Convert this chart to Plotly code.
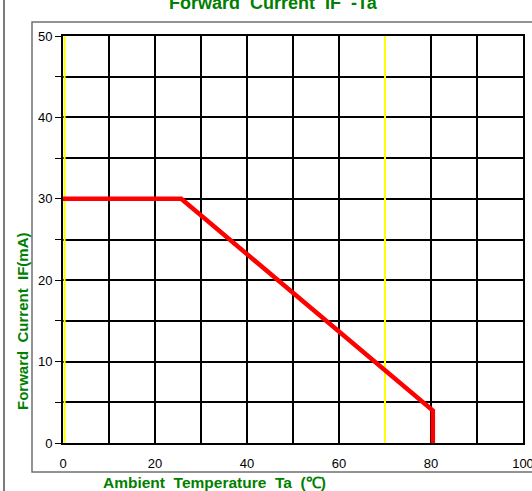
import plotly.graph_objects as go

# Data
temp_ta = [0, 25.7, 80.4, 80.4]
current_if = [30, 30, 4, 0]
yellow_lines_x = [0.35, 70]
x_tick_vals = [0, 20, 40, 60, 80, 100]
x_tick_text = ["0", "20", "40", "60", "80", "100"]
y_tick_vals = [0, 10, 20, 30, 40, 50]
y_tick_text = ["0", "10", "20", "30", "40", "50"]

title_text = "Forward&nbsp; Current&nbsp; IF&nbsp; -Ta"
x_title = "Ambient&nbsp; Temperature&nbsp; Ta&nbsp; (℃)"
y_title = "Forward&nbsp; Current&nbsp; IF(mA)"

GREEN = "#008000"
W, H = 532, 491
L, R, T, B = 63, 9, 36, 48
pw, ph = W - L - R, H - T - B

def px(xp):
    return (xp - L) / pw

def py(yp):
    return (H - B - yp) / ph

fig = go.Figure()

for xv in yellow_lines_x:
    fig.add_trace(go.Scatter(x=[xv, xv], y=[0, 50],
                             mode="lines", line=dict(color="#ffff00", width=2),
                             hoverinfo="skip", showlegend=False))

fig.add_trace(go.Scatter(x=temp_ta, y=current_if, mode="lines",
                         line=dict(color="#ff0000", width=4.5),
                         showlegend=False))

axis_common = dict(showline=True, linecolor="black", linewidth=2, mirror=True,
                   showgrid=True, gridcolor="black", gridwidth=2, zeroline=False,
                   automargin=False, ticklabeloverflow="allow",
                   tickfont=dict(family="Liberation Sans", size=13, color="black"))

fig.update_xaxes(range=[0, 100], tickvals=x_tick_vals, ticktext=x_tick_text,
                 ticks="outside", ticklen=7, tickcolor="white", tickwidth=0.1,
                 minor=dict(tickvals=list(range(10, 100, 20)), showgrid=True, gridcolor="black",
                            gridwidth=2, ticks=""),
                 **axis_common)
fig.update_yaxes(range=[0, 50], tickvals=y_tick_vals, ticktext=y_tick_text,
                 ticks="outside", ticklen=6, tickcolor="black", tickwidth=1,
                 minor=dict(tickvals=list(range(5, 50, 10)), showgrid=True, gridcolor="black",
                            gridwidth=2, ticks="outside", ticklen=6, tickcolor="black"),
                 **axis_common)

shapes = [
    dict(type="rect", xref="paper", yref="paper",
         x0=px(32), x1=px(560), y0=py(472), y1=py(22),
         line=dict(color="#707070", width=1.5), layer="below"),
    dict(type="line", xref="paper", yref="paper",
         x0=px(4), x1=px(4), y0=py(495), y1=py(-5),
         line=dict(color="#505050", width=1.5)),
]

annotations = [
    dict(text="<b>" + title_text + "</b>", xref="paper", yref="paper",
         x=px(273), y=py(3), xanchor="center", yanchor="middle", showarrow=False,
         font=dict(family="Liberation Sans", size=18, color=GREEN)),
    dict(text="<b>" + x_title + "</b>", xref="paper", yref="paper",
         x=px(214), y=py(482), xanchor="center", yanchor="middle", showarrow=False,
         font=dict(family="Liberation Sans", size=15.5, color=GREEN)),
    dict(text="<b>" + y_title + "</b>", xref="paper", yref="paper",
         x=px(22), y=py(321), xanchor="center", yanchor="middle", showarrow=False,
         textangle=-90, font=dict(family="Liberation Sans", size=15, color=GREEN)),
]

fig.update_layout(width=W, height=H, margin=dict(l=L, r=R, t=T, b=B),
                  plot_bgcolor="white", paper_bgcolor="white",
                  shapes=shapes, annotations=annotations, showlegend=False)

fig.write_html("out.html", config={"displayModeBar": False},
               post_script="document.body.style.margin='0px';document.body.style.overflow='hidden';")
